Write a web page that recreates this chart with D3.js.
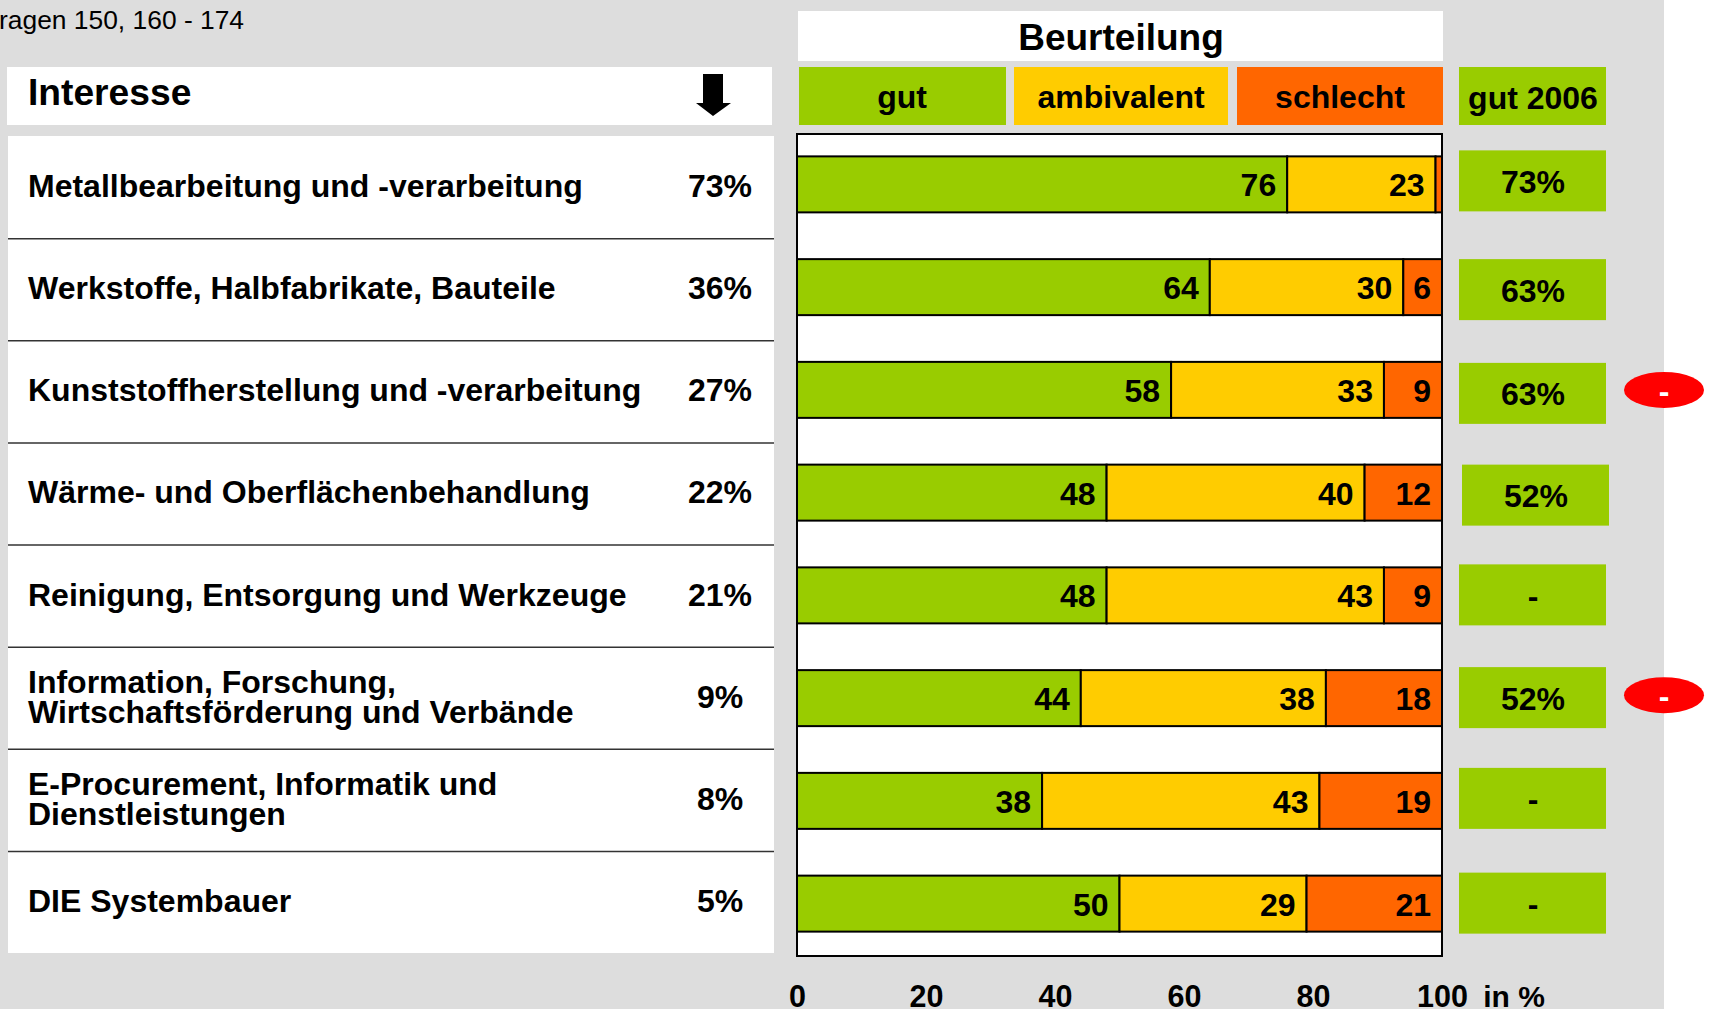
<!DOCTYPE html>
<html>
<head>
<meta charset="utf-8">
<script src="https://cdnjs.cloudflare.com/ajax/libs/d3/7.8.5/d3.min.js"></script>
<style>
html, body { margin: 0; padding: 0; background: #fff; }
svg { display: block; }
text { font-family: "Liberation Sans", Arial, sans-serif; font-weight: bold; fill: #000; }
</style>
</head>
<body>
<svg id="chart" width="1713" height="1009"></svg>
<script>
var categories = [
	["Metallbearbeitung und -verarbeitung"],
	["Werkstoffe, Halbfabrikate, Bauteile"],
	["Kunststoffherstellung und -verarbeitung"],
	["Wärme- und Oberflächenbehandlung"],
	["Reinigung, Entsorgung und Werkzeuge"],
	["Information, Forschung,", "Wirtschaftsförderung und Verbände"],
	["E-Procurement, Informatik und", "Dienstleistungen"],
	["DIE Systembauer"]
];
var interest = ["73%", "36%", "27%", "22%", "21%", "9%", "8%", "5%"];
var gut = [76, 64, 58, 48, 48, 44, 38, 50];
var ambivalent = [23, 30, 33, 40, 43, 38, 43, 29];
var schlecht = [1, 6, 9, 12, 9, 18, 19, 21];
var gut2006 = ["73%", "63%", "63%", "52%", "-", "52%", "-", "-"];
var trendDown = [2, 5];
var xTicks = [0, 20, 40, 60, 80, 100];
var seriesNames = ["gut", "ambivalent", "schlecht"];
var seriesColors = ["#99cc00", "#ffcc00", "#ff6600"];

// the 2006 boxes are not quite lined up with the bars in the original
var boxShift = [-6, 0, 1, 0, -3, -3, -5, -3];
var boxShiftX = [0, 0, 0, 3, 0, 0, 0, 0];

var svg = d3.select("#chart");

var x = d3.scaleLinear().domain([0, 100]).range([797, 1442]);
var y = d3.scaleBand().domain(d3.range(categories.length)).range([133, 955]).paddingInner(0.455).paddingOuter(0.2275);
var rowY = d3.scaleBand().domain(d3.range(categories.length)).range([136, 953]);

function box(sel, x0, y0, w, h, fill) {
	return sel.append("rect").attr("x", x0).attr("y", y0).attr("width", w).attr("height", h).attr("fill", fill);
}

function label(str, px, py, size, anchor) {
	return svg.append("text").attr("x", px).attr("y", py).attr("font-size", size)
		.attr("text-anchor", anchor || "middle").text(str);
}

box(svg, 0, 0, 1664, 1009, "#dddddd");

label("ragen 150, 160 - 174", -1, 29, 26.4, "start").style("font-weight", "normal");

// left panel
box(svg, 7, 67, 765, 58, "#fff");
label("Interesse", 28, 105, 37.2, "start");
box(svg, 8, 136, 766, 817, "#fff");

var arrow = d3.line();
svg.append("path")
	.attr("d", arrow([[703, 74], [723, 74], [723, 103], [731, 103], [713, 116], [696, 103], [703, 103]]) + "Z")
	.attr("fill", "#000");

svg.selectAll(".rowline")
	.data(d3.range(1, categories.length))
	.enter()
	.append("line")
	.attr("class", "rowline")
	.attr("x1", 8).attr("x2", 774)
	.attr("y1", function(d) { return rowY(d) + 0.5; })
	.attr("y2", function(d) { return rowY(d) + 0.5; })
	.attr("stroke", "#333").attr("stroke-width", 1.5);

categories.forEach(function(lines, i) {
	var cy = rowY(i) + rowY.bandwidth() / 2;
	lines.forEach(function(t, j) {
		var off = lines.length == 1 ? 10 : (j == 0 ? -5 : 25);
		label(t, 28, cy + off, 32, "start");
	});
	label(interest[i], 720, cy + 10, 32);
});

// header
box(svg, 798, 11, 645, 50, "#fff");
label("Beurteilung", 1121, 50, 37);
box(svg, 799, 67, 207, 58, seriesColors[0]);
box(svg, 1014, 67, 214, 58, seriesColors[1]);
box(svg, 1237, 67, 206, 58, seriesColors[2]);
box(svg, 1459, 67, 147, 58, seriesColors[0]);
label(seriesNames[0], 902, 108, 32);
label(seriesNames[1], 1121, 108, 32);
label(seriesNames[2], 1340, 108, 32);
label("gut 2006", 1533, 109, 32);

// plot
svg.append("rect").attr("x", x(0)).attr("y", 134)
	.attr("width", x(100) - x(0)).attr("height", 822)
	.attr("fill", "#fff").attr("stroke", "#000").attr("stroke-width", 2);

var rows = categories.map(function(c, i) {
	return { index: i, gut: gut[i], ambivalent: ambivalent[i], schlecht: schlecht[i] };
});
var stacked = d3.stack().keys(seriesNames)(rows);

var layers = svg.selectAll(".layer")
	.data(stacked)
	.enter()
	.append("g")
	.attr("class", "layer")
	.attr("fill", function(d, i) { return seriesColors[i]; });

layers.selectAll("rect")
	.data(function(d) { return d; })
	.enter()
	.append("rect")
	.attr("x", function(d) { return x(d[0]); })
	.attr("y", function(d) { return y(d.data.index); })
	.attr("width", function(d) { return x(d[1]) - x(d[0]); })
	.attr("height", y.bandwidth())
	.attr("stroke", "#000").attr("stroke-width", 2);

layers.selectAll("text")
	.data(function(d) { return d.filter(function(v) { return v[1] - v[0] > 1; }); })
	.enter()
	.append("text")
	.attr("x", function(d) { return x(d[1]) - 11; })
	.attr("y", function(d) { return y(d.data.index) + y.bandwidth() / 2 + 12; })
	.attr("text-anchor", "end")
	.attr("font-size", 32)
	.text(function(d) { return d[1] - d[0]; });

// 2006 column
gut2006.forEach(function(v, i) {
	var bx = 1459 + boxShiftX[i];
	var by = y(i) + boxShift[i];
	box(svg, bx, by, 147, 61, seriesColors[0]);
	label(v, bx + 74, by + 42.5, 32);
});

// trend markers
trendDown.forEach(function(i) {
	var cy = y(i) + y.bandwidth() / 2 + (i == 2 ? 0 : -3);
	svg.append("ellipse").attr("cx", 1664).attr("cy", cy).attr("rx", 40).attr("ry", 18).attr("fill", "#ff0000");
	label("-", 1664, cy + 12, 32).style("fill", "#fff");
});

// axis
var axis = d3.axisBottom(x).tickValues(xTicks).tickSize(0).tickPadding(0);
var axisG = svg.append("g").attr("transform", "translate(0,985)").call(axis);
axisG.select(".domain").remove();
axisG.selectAll("text").attr("font-size", 30.5).attr("font-family", null);
label("in %", 1514, 1007, 30);
</script>
</body>
</html>
